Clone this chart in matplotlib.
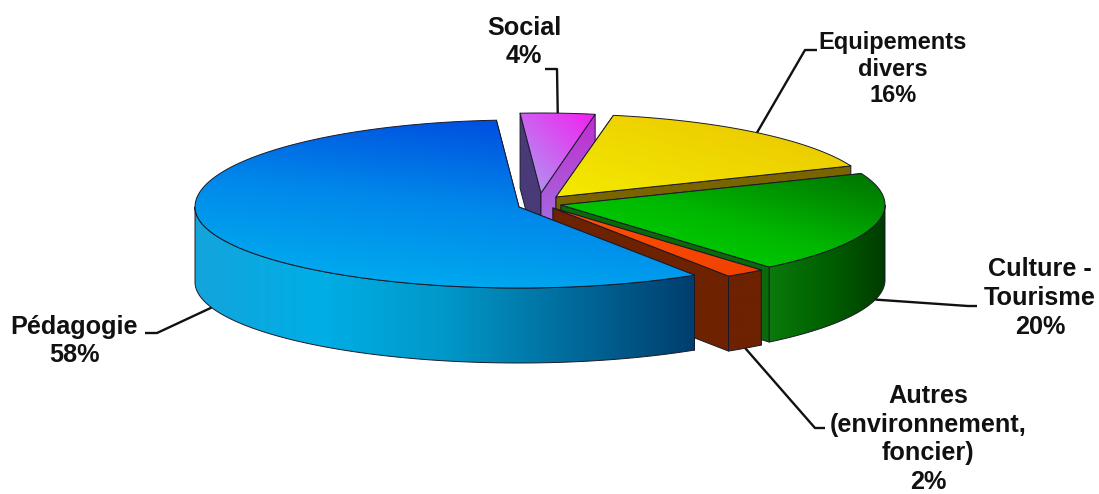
import numpy as np
import matplotlib
matplotlib.use('Agg')
import matplotlib.pyplot as plt
from matplotlib.colors import LinearSegmentedColormap
from matplotlib.patches import Polygon

# Data, clockwise from the top of the pie
labels = ['Social', 'Equipements\ndivers', 'Culture -\nTourisme',
          'Autres\n(environnement,\nfoncier)', 'Pédagogie']
shares = [4, 16, 20, 2, 58]

# Pie geometry in pixels
start_angle = -4
rx = [300, 318, 324, 324, 324]
ry_back = [80, 83, 84, 84, 87]
ry_front = 81
depth = 75
apexes = [(541, 193), (556, 197), (561, 205), (553, 208), (519, 207)]

# (colours, gradient direction)
top_fill = [
    (['#a8a0f0', '#f51ef0'], (1, -1)),
    (['#f4ea00', '#eac400'], (1, -1)),
    (['#00dc00', '#00b800', '#007000'], (1, -1)),
    (['#ff5000', '#f04000'], (1, 0)),
    (['#00b4f0', '#0088ea', '#0040dc'], (0.35, -1)),
]
wall_fill = [
    ['#b040d0', '#b040d0'],
    ['#7a6400', '#7a6400'],
    ['#0a7a0a', '#006000', '#003c00'],
    ['#6e2200', '#6e2200'],
    ['#14a4dc', '#00aee6', '#0098c8', '#006c9c', '#003e6e'],
]
cut_fill = [
    (['#4a3a78', '#4a3a78'], ['#9a84e4', '#c02cd0']),
    (['#7a6400', '#7a6400'], ['#7a6400', '#7a6400']),
    (['#0a6a0a', '#0a6a0a'], ['#0a6a0a', '#0a6a0a']),
    (['#6e2200', '#6e2200'], ['#6e2200', '#6e2200']),
    (['#0050b0', '#0050b0'], ['#0050b0', '#0050b0']),
]

# Label centre, size, line spacing and the leader's points after the one on the rim
label_pos = [(524, 42), (893, 69), (1040, 298), (928, 439), (74, 341)]
label_size = [18.2, 17, 18.2, 18.2, 18.2]
label_spacing = [1.26, 1.22, 1.26, 1.24, 1.26]
leaders = [
    [(557, 69), (545, 69)],
    [(805, 50), (817, 50)],
    [(968, 306), (977, 306)],
    [(815, 428), (825, 428)],
    [(157, 333), (145, 333)],
]

fig = plt.figure(figsize=(10.99, 4.94), dpi=100)
ax = fig.add_axes([0, 0, 1, 1])
ax.axis('off')
z = [1]


def rim(i, angle, drop=0):
    t = np.radians(angle)
    ry = np.where(np.cos(t) > 0, ry_back[i], ry_front)
    return apexes[i][0] + rx[i] * np.sin(t), apexes[i][1] - ry * np.cos(t) + drop


def fill(points, colors, direction=(1, 0)):
    points = np.asarray(points)
    z[0] += 1
    patch = Polygon(points, closed=True, transform=ax.transData, fill=False,
                    edgecolor='#1a1a2a', linewidth=0.7, zorder=z[0] + 0.5,
                    joinstyle='round')
    ax.add_patch(patch)
    x0, y0 = points.min(axis=0)
    x1, y1 = points.max(axis=0)
    xx, yy = np.meshgrid(np.linspace(0, 1, 300), np.linspace(0, 1, 300))
    dx, dy = direction
    grad = xx * dx + yy * dy
    grad = (grad - grad.min()) / max(grad.max() - grad.min(), 1e-9)
    cmap = LinearSegmentedColormap.from_list('fill', colors)
    im = ax.imshow(grad, cmap=cmap, extent=(x0, x1, y1, y0), origin='upper',
                   aspect='auto', zorder=z[0], interpolation='bilinear')
    im.set_clip_path(patch)


angle = start_angle
for i, share in enumerate(shares):
    end = angle + share * 3.6
    apex = apexes[i]
    a0 = rim(i, angle)
    a1 = rim(i, end)

    # cut faces, the ones facing away end up under the top face
    for corner, colors in zip((a0, a1), cut_fill[i]):
        fill([apex, corner, (corner[0], corner[1] + depth),
              (apex[0], apex[1] + depth)], colors, (0, -1) if i == 0 else (1, 0))

    # outer wall, only the front part of the rim shows
    lo, hi = max(angle, 90), min(end, 270)
    if hi > lo:
        arc = np.linspace(lo, hi, 120)
        xs, ys = rim(i, arc)
        wall = np.r_[np.c_[xs, ys], np.c_[xs, ys + depth][::-1]]
        fill(wall, wall_fill[i], (1, 0))

    # top face
    arc = np.linspace(angle, end, 160)
    xs, ys = rim(i, arc)
    fill(np.r_[[apex], np.c_[xs, ys]], top_fill[i][0], top_fill[i][1])

    # leader and label
    mid = (angle + end) / 2
    mx, my = rim(i, mid, depth if np.cos(np.radians(mid)) < 0 else 0)
    lx, ly = zip((float(mx), float(my)), *leaders[i])
    ax.plot(lx, ly, color='#111111', lw=1.7, zorder=500,
            solid_capstyle='butt', solid_joinstyle='round')
    ax.text(*label_pos[i], f'{labels[i]}\n{share}%', ha='center', va='center',
            multialignment='center', family='Liberation Sans', weight='bold',
            fontsize=label_size[i], color='#111111',
            linespacing=label_spacing[i], zorder=501)
    angle = end

ax.set_xlim(0, 1099)
ax.set_ylim(494, 0)
fig.savefig('out.png', dpi=100, facecolor='white')
